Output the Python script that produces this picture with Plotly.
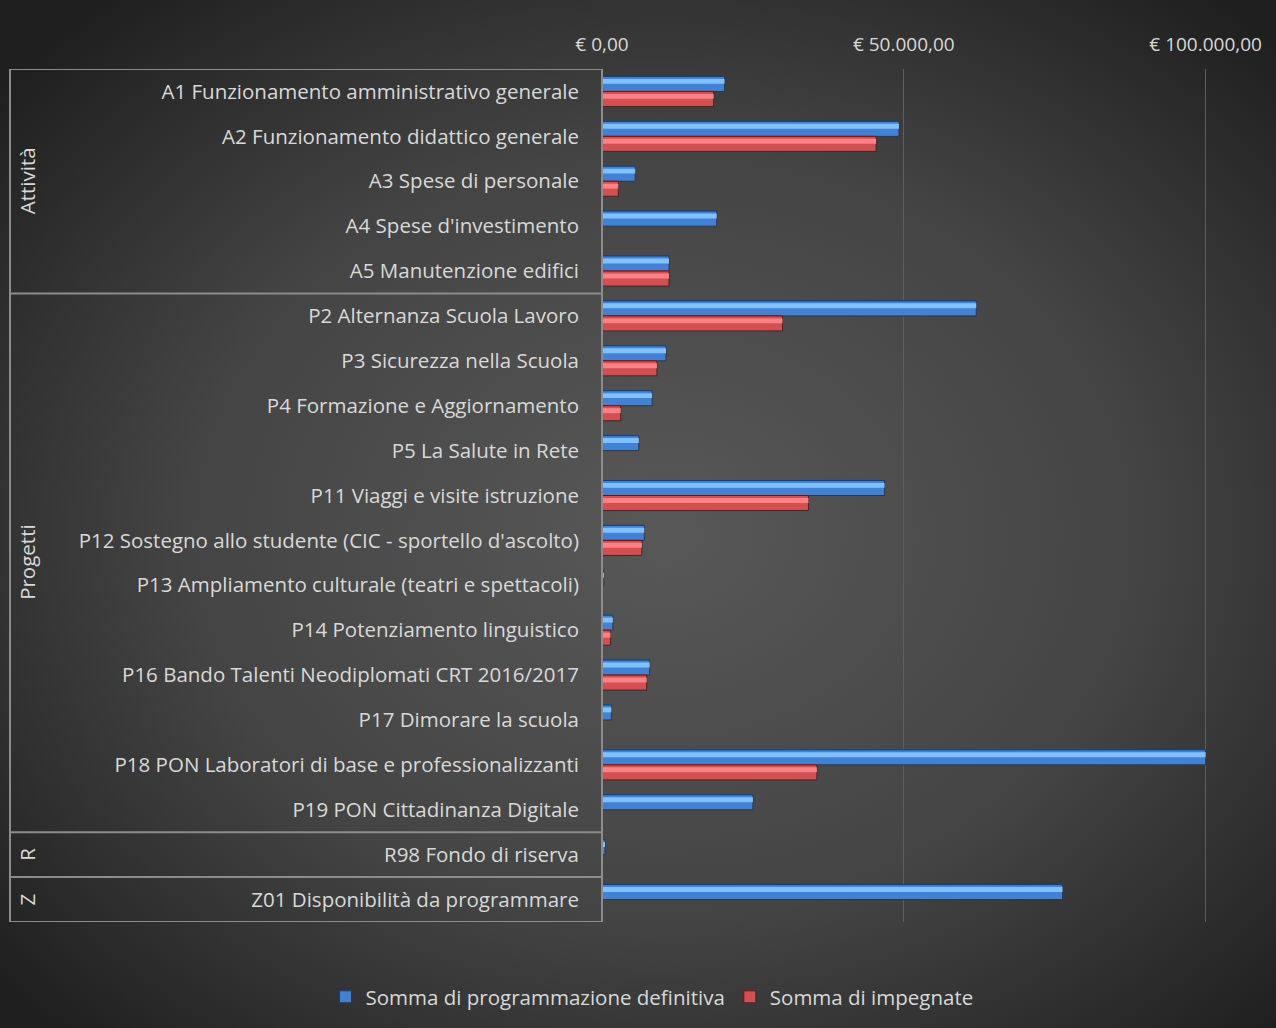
import base64
import plotly.graph_objects as go

# ---------------- data ----------------
categories = [
    "A1 Funzionamento amministrativo generale",
    "A2 Funzionamento didattico generale",
    "A3 Spese di personale",
    "A4 Spese d'investimento",
    "A5 Manutenzione edifici",
    "P2 Alternanza Scuola Lavoro",
    "P3 Sicurezza nella Scuola",
    "P4 Formazione e Aggiornamento",
    "P5 La Salute in Rete",
    "P11 Viaggi e visite istruzione",
    "P12 Sostegno allo studente (CIC - sportello d'ascolto)",
    "P13 Ampliamento culturale (teatri e spettacoli)",
    "P14 Potenziamento linguistico",
    "P16 Bando Talenti Neodiplomati CRT 2016/2017",
    "P17 Dimorare la scuola",
    "P18 PON Laboratori di base e professionalizzanti",
    "P19 PON Cittadinanza Digitale",
    "R98 Fondo di riserva",
    "Z01 Disponibilità da programmare",
]
programmazione = [20300, 49200, 5500, 19000, 11100, 62000, 10600, 8300, 6100, 46800,
                  7000, 300, 1800, 7900, 1550, 100000, 25000, 500, 76300]
impegnate = [18500, 45400, 2700, 0, 11100, 29900, 9100, 3100, 0, 34200,
             6600, 100, 1400, 7400, 0, 35600, 0, 0, 0]
group_names = ["Attività", "Progetti", "R", "Z"]
group_sizes = [5, 12, 1, 1]
series_names = ["Somma di programmazione definitiva", "Somma di impegnate"]
x_tickvals = [0, 50000, 100000]
x_ticktext = ["€ 0,00", "€ 50.000,00", "€ 100.000,00"]

# ---------------- layout constants ----------------
W, H = 1276, 1028
ML, MR, MT, MB = 602, 10, 69, 106
PW, PH = W - ML - MR, H - MT - MB
FONT = "Open Sans"
TXT = "#d9d9d9"
LINE = "#8c8c8c"
FS = 20.5

bw = 0.335
fig = go.Figure()

# blue series
fig.add_trace(go.Bar(y=categories, x=programmazione, orientation="h", name=series_names[0],
                     offset=-bw, width=bw, marker=dict(color="#4282d4", line=dict(color="#1c3a66", width=1))))
fig.add_trace(go.Bar(y=categories, x=programmazione, orientation="h", showlegend=False, hoverinfo="skip",
                     offset=-bw + 0.055, width=0.11, marker=dict(color="#80c0fb", line=dict(width=0))))
# red series
fig.add_trace(go.Bar(y=categories, x=impegnate, orientation="h", name=series_names[1],
                     offset=0, width=bw, marker=dict(color="#d44f51", line=dict(color="#5e1a1c", width=1))))
fig.add_trace(go.Bar(y=categories, x=impegnate, orientation="h", showlegend=False, hoverinfo="skip",
                     offset=0.055, width=0.11, marker=dict(color="#fb8284", line=dict(width=0))))

# group boxes
shapes = []
x_left = (10 - ML) / PW
bounds = [-0.5]
for s in group_sizes:
    bounds.append(bounds[-1] + s)
for b in bounds:
    shapes.append(dict(type="line", xref="paper", yref="y", x0=x_left, x1=0, y0=b, y1=b,
                       line=dict(color=LINE, width=2)))
shapes.append(dict(type="line", xref="paper", yref="y", x0=x_left, x1=x_left, y0=bounds[0], y1=bounds[-1],
                   line=dict(color=LINE, width=2)))
shapes.append(dict(type="line", xref="paper", yref="y", x0=0, x1=0, y0=bounds[0], y1=bounds[-1],
                   line=dict(color=LINE, width=2)))

annotations = []
for i, name in enumerate(group_names):
    yc = (bounds[i] + bounds[i + 1]) / 2
    annotations.append(dict(text=name, xref="paper", yref="y", x=(27 - ML) / PW, y=yc, showarrow=False,
                            textangle=-90, font=dict(family=FONT, size=FS, color=TXT),
                            xanchor="center", yanchor="middle"))

# radial background
svg = (f'<svg xmlns="http://www.w3.org/2000/svg" width="{W}" height="{H}">'
       '<defs><radialGradient id="g" cx="52%" cy="52%" r="68%">'
       '<stop offset="0" stop-color="#585858"/><stop offset="0.55" stop-color="#444444"/>'
       '<stop offset="1" stop-color="#1f1f1f"/></radialGradient></defs>'
       f'<rect width="{W}" height="{H}" fill="url(#g)"/></svg>')
src = "data:image/svg+xml;base64," + base64.b64encode(svg.encode()).decode()
images = [dict(source=src, xref="paper", yref="paper", x=-ML / PW, y=(PH + MT) / PH,
               sizex=W / PW, sizey=H / PH, xanchor="left", yanchor="top",
               sizing="stretch", layer="below")]

fig.update_layout(
    width=W, height=H,
    margin=dict(l=ML, r=MR, t=MT, b=MB),
    paper_bgcolor="#2e2e2e", plot_bgcolor="rgba(0,0,0,0)",
    barmode="overlay",
    font=dict(family=FONT, size=FS, color=TXT),
    shapes=shapes, annotations=annotations, images=images,
    legend=dict(orientation="h", x=(652 - ML) / PW, xanchor="center", y=-(997 - MT - PH) / PH,
                yanchor="middle", font=dict(family=FONT, size=FS, color=TXT),
                bgcolor="rgba(0,0,0,0)", itemwidth=30),
    xaxis=dict(range=[0, 110000], side="top", tickvals=x_tickvals, ticktext=x_ticktext,
               showgrid=True, gridcolor="#5e5e5e", gridwidth=1, zeroline=False, showline=False,
               ticks="", tickfont=dict(family=FONT, size=19, color=TXT), ticklabelstandoff=13),
    yaxis=dict(type="category", categoryorder="array", categoryarray=categories,
               range=[len(categories) - 0.5, -0.5], showgrid=False, zeroline=False, showline=False,
               ticks="", tickfont=dict(family=FONT, size=FS, color=TXT), ticklabelstandoff=22),
    showlegend=True,
)

fig.write_html("out.html", config={"displayModeBar": False},
               post_script="document.body.style.margin='0';document.body.style.overflow='hidden';")
